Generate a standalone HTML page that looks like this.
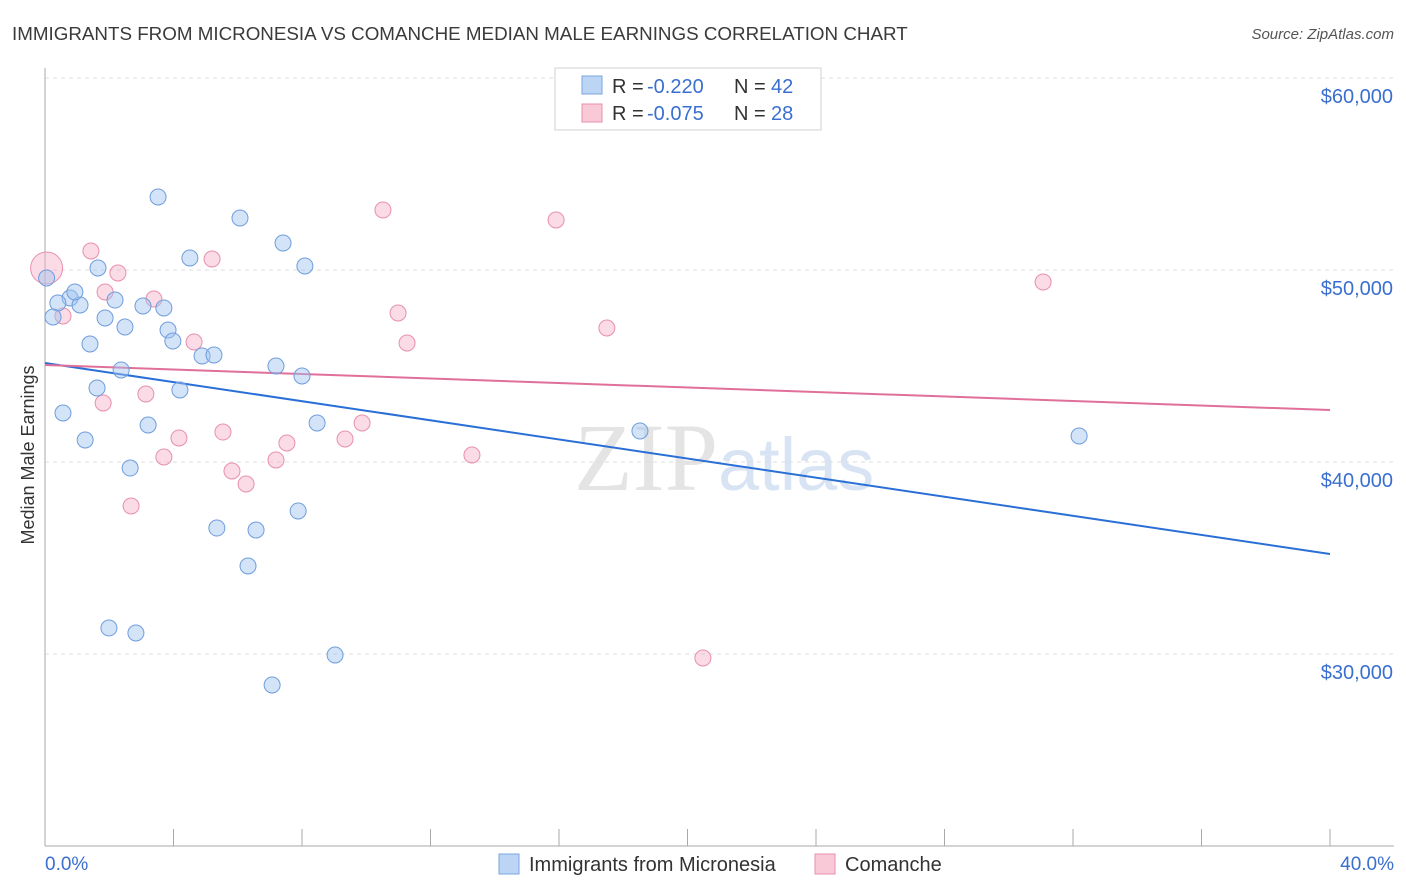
<!DOCTYPE html>
<html><head><meta charset="utf-8"><style>
body{margin:0;background:#fff;font-family:"Liberation Sans",sans-serif;}
svg{display:block}
</style></head><body>
<svg id="chart" width="1406" height="892">
<text x="12" y="40" font-size="18.8" fill="#3a3a3a">IMMIGRANTS FROM MICRONESIA VS COMANCHE MEDIAN MALE EARNINGS CORRELATION CHART</text>
<text x="1394" y="39" font-size="15" fill="#555" font-style="italic" text-anchor="end">Source: ZipAtlas.com</text>
<text x="718" y="490" font-size="96" fill="#e4e4e4" font-family="Liberation Serif,serif" text-anchor="end">ZIP</text>
<text x="718" y="490" font-size="74" fill="#d8e4f3">atlas</text>
<g id="grid"></g><g id="axes"></g><g id="trend"></g><g id="pts"></g>
<text transform="translate(34,455) rotate(-90)" font-size="18" fill="#333" text-anchor="middle">Median Male Earnings</text>
<text x="45" y="870" font-size="19" fill="#3a6fd0">0.0%</text>
<text x="1394" y="870" font-size="19" fill="#3a6fd0" text-anchor="end">40.0%</text>
<g>
<rect x="555" y="68" width="266" height="62" fill="#fff" stroke="#d0d0d0"/>
<rect x="582" y="76" width="20" height="18" fill="#bcd5f5" stroke="#7aa5e0"/>
<rect x="582" y="104" width="20" height="18" fill="#f9c9d8" stroke="#e890ac"/>
<text y="93" font-size="20" fill="#333"><tspan x="612">R =</tspan><tspan x="647" fill="#3a6fd0">-0.220</tspan><tspan x="734">N =</tspan><tspan x="771" fill="#3a6fd0">42</tspan></text>
<text y="120" font-size="20" fill="#333"><tspan x="612">R =</tspan><tspan x="647" fill="#3a6fd0">-0.075</tspan><tspan x="734">N =</tspan><tspan x="771" fill="#3a6fd0">28</tspan></text>
</g>
<g>
<rect x="499" y="854" width="20" height="20" fill="#bcd5f5" stroke="#7aa5e0"/>
<text x="529" y="871" font-size="20" fill="#333">Immigrants from Micronesia</text>
<rect x="815" y="854" width="20" height="20" fill="#f9c9d8" stroke="#e890ac"/>
<text x="845" y="871" font-size="20" fill="#333">Comanche</text>
</g>
</svg>
<script>
const yTicks=[30000,40000,50000,60000];
const yTickLabels=["$30,000","$40,000","$50,000","$60,000"];
const blueX=[3.52,6.07,7.41,4.51,8.09,1.65,0.05,0.78,2.18,0.40,1.09,3.05,3.70,0.25,1.87,2.49,3.83,3.98,1.40,4.89,5.26,2.37,7.19,8.00,1.62,4.20,0.56,3.21,8.47,1.25,18.52,32.19,2.65,5.35,6.57,7.88,6.32,1.99,2.83,9.03,7.07,0.93];
const blueY=[53802,52708,51406,50625,50208,50104,49583,48542,48437,48281,48177,48125,48021,47552,47500,47031,46875,46302,46146,45521,45573,44792,45000,44479,43854,43750,42552,41927,42031,41146,41615,41354,39687,36562,36458,37448,34583,31354,31094,29948,28385,48854];
const pinkX=[0.05,10.52,15.91,1.43,5.20,2.27,31.07,1.87,3.39,0.56,10.99,17.49,4.64,11.27,3.14,1.81,9.87,4.17,5.54,9.34,7.53,3.70,13.29,7.19,5.82,6.26,2.68,20.48];
const pinkY=[50104,53125,52604,50990,50573,49844,49375,48854,48490,47604,47760,46979,46250,46198,43542,43073,42031,41250,41562,41198,40990,40260,40365,40104,39531,38854,37708,29792];
const blueTrend=[45156,35208];
const pinkTrend=[45052,42708];
const NS="http://www.w3.org/2000/svg";
const X=v=>45+v/40*1285;
const Y=v=>78+(60000-v)/10000*192;
function mk(p,t,a){const e=document.createElementNS(NS,t);for(const k in a)e.setAttribute(k,a[k]);document.getElementById(p).appendChild(e);return e;}
yTicks.forEach((t,i)=>{
 const l=mk('grid','line',{x1:45,x2:1394,y1:Y(t),y2:Y(t),stroke:'#dcdcdc','stroke-dasharray':'4,4'});
 
 
 const tx=mk('grid','text',{x:1393,y:Y(t)+25,'font-size':20,fill:'#3a6fd0','text-anchor':'end'});
 tx.textContent=yTickLabels[i];
 
 
});
const ya=mk('axes','line',{x1:45,x2:45,y1:68,y2:846,stroke:'#aaa'});


const xa=mk('axes','line',{x1:45,x2:1394,y1:846,y2:846,stroke:'#aaa'});


for(let i=0;i<=10;i++){
 const t=mk('axes','line',{x1:X(i*4),x2:X(i*4),y1:829,y2:846,stroke:'#aaa'});
 
 
}
const bt=mk('trend','line',{x1:X(0),y1:Y(blueTrend[0]),x2:X(40),y2:Y(blueTrend[1]),stroke:'#2a6fd6','stroke-width':2});


const pt=mk('trend','line',{x1:X(0),y1:Y(pinkTrend[0]),x2:X(40),y2:Y(pinkTrend[1]),stroke:'#e0709a','stroke-width':2});


pinkX.forEach((x,i)=>{
 const c=mk('pts','circle',{cx:X(x),cy:Y(pinkY[i]),r:i==0?16:8,fill:'rgba(245,175,200,0.45)',stroke:'#e890ac','stroke-width':1});
 
 
});
blueX.forEach((x,i)=>{
 const c=mk('pts','circle',{cx:X(x),cy:Y(blueY[i]),r:8,fill:'rgba(160,195,240,0.45)',stroke:'#6f9ddc','stroke-width':1});
 
 
});
</script>
</body></html>
